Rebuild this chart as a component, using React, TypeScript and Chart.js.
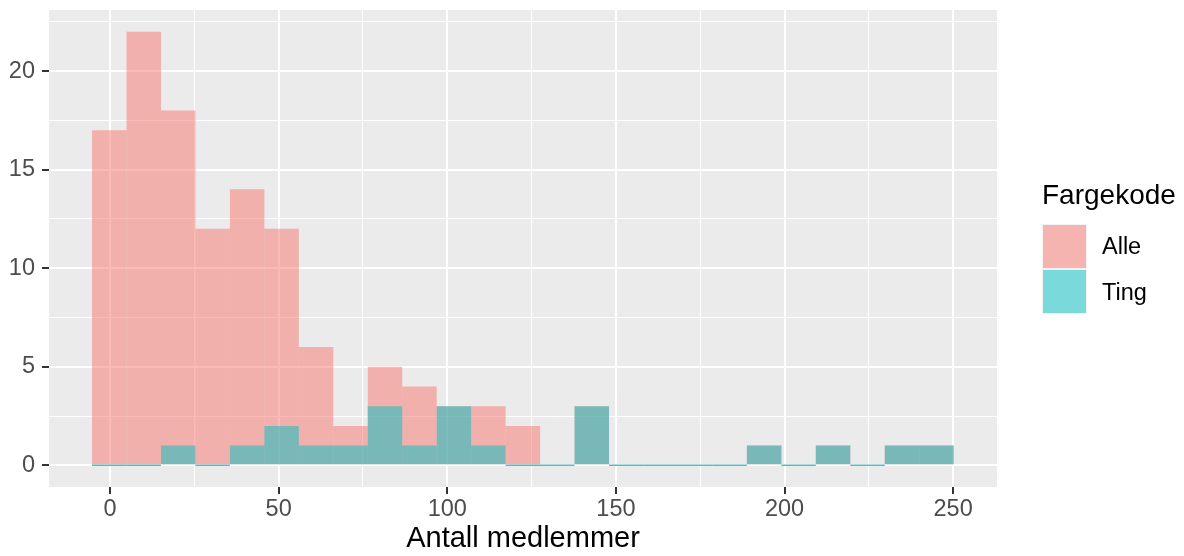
import React, { useEffect, useRef } from 'react';
import { Chart, registerables } from 'chart.js';

Chart.register(...registerables);

// ---- data ----
const BIN_START = -5.34;
const BIN_WIDTH = 10.22;
const alleCounts = [17, 22, 18, 12, 14, 12, 6, 2, 5, 4, 3, 3, 2, 0, 3, 0, 0, 0, 0, 1, 0, 1, 0, 1, 1];
const tingCounts = [0, 0, 1, 0, 1, 2, 1, 1, 3, 1, 3, 1, 0, 0, 3, 0, 0, 0, 0, 1, 0, 1, 0, 1, 1];
const seriesNames = ['Alle', 'Ting'];
const xGridValues = [0, 25, 50, 75, 100, 125, 150, 175, 200, 225, 250];
const xLabelValues = [0, 50, 100, 150, 200, 250];
const yGridValues = [0, 2.5, 5, 7.5, 10, 12.5, 15, 17.5, 20, 22.5];
const yLabelValues = [0, 5, 10, 15, 20];
const X_MIN = -18.1;
const X_MAX = 263.0;
const Y_MIN = -1.1;
const Y_MAX = 23.1;
const xTitle = 'Antall medlemmer';
const legendTitle = 'Fargekode';

const FONT = "'Liberation Sans', Arial, Helvetica, sans-serif";
const alleFill = 'rgba(248,118,109,0.5)';
const tingFill = 'rgba(0,191,196,0.5)';
const tingZero = 'rgba(0,165,170,0.7)';
const legendFills = ['#F5B4B0', '#79D9DB'];

const panelBg = {
  id: 'panelBg',
  beforeDraw(chart: any) {
    const { ctx, chartArea } = chart;
    ctx.save();
    ctx.fillStyle = '#EBEBEB';
    ctx.fillRect(chartArea.left, chartArea.top, chartArea.right - chartArea.left, chartArea.bottom - chartArea.top);
    ctx.restore();
  },
};

export default function App() {
  const canvasRef = useRef<HTMLCanvasElement | null>(null);

  useEffect(() => {
    const canvas = canvasRef.current;
    if (!canvas) return;
    const centers = alleCounts.map((_, i) => BIN_START + (i + 0.5) * BIN_WIDTH);
    const isMajor = (v: number, list: number[]) => list.some((m) => Math.abs(m - v) < 1e-9);

    const chart = new Chart(canvas, {
      type: 'bar',
      data: {
        datasets: [
          {
            label: seriesNames[0],
            data: alleCounts.map((c, i) => ({ x: centers[i], y: c })),
            backgroundColor: alleFill,
            borderWidth: 0,
            grouped: false,
            order: 2,
            barPercentage: 1,
            categoryPercentage: 1,
            inflateAmount: 0,
          } as any,
          {
            label: seriesNames[1],
            data: tingCounts.map((c, i) => ({ x: centers[i], y: c })),
            backgroundColor: tingCounts.map((c) => (c === 0 ? tingZero : tingFill)),
            borderWidth: 0,
            grouped: false,
            order: 1,
            barPercentage: 1,
            categoryPercentage: 1,
            minBarLength: 1.5,
            inflateAmount: 0,
          } as any,
        ],
      },
      options: {
        responsive: false,
        animation: false,
        devicePixelRatio: 1,
        layout: { padding: { left: 0, right: 187, top: 10, bottom: 0 } },
        plugins: { legend: { display: false }, tooltip: { enabled: false } },
        scales: {
          x: {
            type: 'linear',
            min: X_MIN,
            max: X_MAX,
            offset: false,
            afterBuildTicks: (scale: any) => {
              scale.ticks = xGridValues.map((v) => ({ value: v }));
            },
            afterFit: (scale: any) => {
              scale.height = 69;
              scale.paddingLeft = 0;
              scale.paddingRight = 0;
            },
            border: { display: false },
            grid: {
              offset: false,
              color: '#FFFFFF',
              lineWidth: (ctx: any) => (ctx.tick && isMajor(ctx.tick.value, xLabelValues) ? 2 : 1),
              drawTicks: true,
              tickLength: 7,
              tickWidth: 2,
              tickColor: (ctx: any) => (ctx.tick && isMajor(ctx.tick.value, xLabelValues) ? '#333333' : 'rgba(0,0,0,0)'),
            },
            ticks: {
              autoSkip: false,
              maxRotation: 0,
              minRotation: 0,
              padding: 3.8,
              color: '#4D4D4D',
              font: { family: FONT, size: 23.5, lineHeight: 1 },
              callback: (v: any) => (isMajor(Number(v), xLabelValues) ? String(v) : ''),
            },
            title: {
              display: true,
              text: xTitle,
              color: '#000000',
              font: { family: FONT, size: 29, lineHeight: 1 },
              padding: { top: 0, bottom: 3 },
            },
          },
          y: {
            type: 'linear',
            min: Y_MIN,
            max: Y_MAX,
            afterBuildTicks: (scale: any) => {
              scale.ticks = yGridValues.map((v) => ({ value: v }));
            },
            afterFit: (scale: any) => {
              scale.width = 49;
              scale.paddingTop = 0;
              scale.paddingBottom = 0;
            },
            border: { display: false },
            grid: {
              offset: false,
              color: '#FFFFFF',
              lineWidth: (ctx: any) => (ctx.tick && isMajor(ctx.tick.value, yLabelValues) ? 2 : 1),
              drawTicks: true,
              tickLength: 7,
              tickWidth: 2,
              tickColor: (ctx: any) => (ctx.tick && isMajor(ctx.tick.value, yLabelValues) ? '#333333' : 'rgba(0,0,0,0)'),
            },
            ticks: {
              autoSkip: false,
              padding: 7,
              color: '#4D4D4D',
              font: { family: FONT, size: 23.5, lineHeight: 1 },
              callback: (v: any) => (isMajor(Number(v), yLabelValues) ? String(v) : ''),
            },
          },
        },
      } as any,
      plugins: [panelBg],
    });

    return () => {
      chart.destroy();
    };
  }, []);

  const keyTops = [224, 269];
  const labelTops = [235.1, 280.8];

  return (
    <div style={{ position: 'absolute', left: 0, top: 0, width: 1184, height: 556, background: '#FFFFFF', fontFamily: FONT }}>
      <canvas ref={canvasRef} width={1184} height={556} style={{ display: 'block', width: 1184, height: 556 }} />
      <div
        style={{
          position: 'absolute',
          left: 1042,
          top: 180.8,
          fontSize: 28,
          lineHeight: '28px',
          color: '#000000',
          whiteSpace: 'nowrap',
        }}
      >
        {legendTitle}
      </div>
      {seriesNames.map((name, i) => (
        <React.Fragment key={name}>
          <div
            style={{
              position: 'absolute',
              left: 1042,
              top: keyTops[i],
              width: 45,
              height: 45,
              background: '#F2F2F2',
              boxSizing: 'border-box',
              padding: 1,
            }}
          >
            <div style={{ width: '100%', height: '100%', background: legendFills[i] }} />
          </div>
          <div
            style={{
              position: 'absolute',
              left: 1102,
              top: labelTops[i],
              fontSize: 23.5,
              lineHeight: '23.5px',
              color: '#000000',
              whiteSpace: 'nowrap',
            }}
          >
            {name}
          </div>
        </React.Fragment>
      ))}
    </div>
  );
}
